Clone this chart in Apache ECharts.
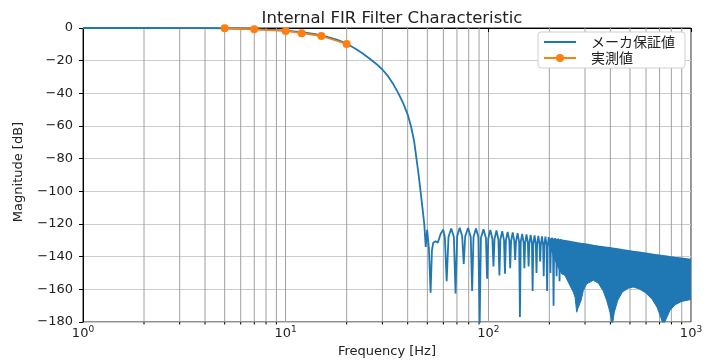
<!DOCTYPE html>
<html>
<head>
<meta charset="utf-8">
<script src="https://cdn.jsdelivr.net/npm/echarts@6/dist/echarts.min.js"></script>
<style>html,body{margin:0;padding:0;background:#fff}#c{width:708px;height:360px}</style>
</head>
<body>
<div id="c"></div>
<script>
// ---- data ----
const minorFreqs = [2,3,4,5,6,7,8,9,20,30,40,50,60,70,80,90,200,300,400,500,600,700,800,900];
const yTicks = [0,-20,-40,-60,-80,-100,-120,-140,-160,-180];

// maker guaranteed curve: pass band + transition
const passFreq = [1, 2, 3, 4, 5, 6, 7, 8, 9, 10, 12, 14, 16, 18, 20, 22, 24, 26, 28, 30, 32, 34, 36, 38, 40, 41.5, 43, 44.2, 45.3, 46.3, 47.3, 48.3];
const passMag  = [0, 0, -0.05, -0.12, -0.28, -0.45, -0.7, -0.95, -1.25, -1.6, -2.6, -3.8, -5.4, -7.3, -9.6, -12.5, -15.6, -18.8, -22, -25.4, -29.5, -34.5, -40, -46, -53, -60, -69, -80, -90, -100, -110, -120];

// stop band ripple: nulls with their shoulders, and lobe peaks
const stopFreq = [49.1, 49.9, 50.9, 51.9, 52.7, 53.5, 54.9, 56.3, 58.2, 59.9,
  61.0, 62.3, 63.6, 65.6,   67.6, 68.9, 70.2, 72.2,   74.3, 75.6, 76.9, 79.4,   81.9, 83.2, 84.5, 86.9,
  89.3, 90.6, 91.9, 94.6,   97.3, 98.6, 99.9, 102.3,  104.7, 106, 107.3, 109.7,  112.1, 113.4, 114.7, 117.1,
  119.5, 120.8, 122.1, 124.5,  126.9, 128.2, 129.5, 131.9,  134.3, 135.6, 136.9, 139.4,  141.9, 143.2, 144.5, 146.9,
  149.3, 150.6, 151.9, 154.3,  156.7, 158, 159.3, 161.7,  164.1, 165.4, 166.7, 169.1,  171.5, 172.8, 174.1, 176.5,
  178.9, 180.2, 181.5, 183.9,  186.3, 187.6, 188.9, 191.3,  193.7, 195, 196.3, 198.7,  201.1, 202.4, 203.7, 206.1,
  208.5, 209.8, 211.1, 213.5,  215.9, 217.2, 218.5, 220.9,  223.3, 224.6, 225.9, 228.3];
const stopMag  = [-134, -123.5, -135, -162, -136, -131.5, -130.5, -131.5, -126, -123.5,
  -128, -155, -128, -122.8,  -128, -162.5, -127.5, -122.3,  -127.5, -144.5, -127.5, -122.4,  -128, -161, -128, -122.8,
  -128, -183, -128.5, -123.2,  -128.5, -153.5, -129, -123.6,  -129, -146, -129, -124,  -129.5, -151.5, -129.5, -124.4,
  -130, -150.5, -130, -124.8,  -130, -147, -130.5, -125.2,  -130.5, -142, -131, -125.6,  -131, -177, -131, -126,
  -131.5, -147, -131.5, -126.3,  -131.5, -146, -132, -126.6,  -132, -161, -132, -126.9,  -132.5, -150, -132.5, -127.2,
  -132.5, -143, -133, -127.5,  -133, -152, -133, -127.8,  -133, -161, -133.5, -128.1,  -133.5, -150, -133.5, -128.4,
  -134, -170, -134, -128.7,  -134, -152, -134.5, -129,  -134.5, -155, -134.5, -129.3];

// dense ripple region (> ~200 Hz) drawn as its upper / lower envelope
const bandFreq  = [200, 210, 220, 230, 239, 248, 262.6, 268, 272.9, 276, 280.2, 286.7, 294.3, 305.6, 329.6, 348.9, 369.3, 383.7, 398.4, 409, 418.4, 434.8, 458.1,
  490.4, 519.1, 553.8, 597.5, 644.2, 681.9, 708.7, 730.1, 758.6, 787.6, 833.7, 899.5, 1000];
const bandUpper = [-129.2, -129.5, -129.8, -130.1, -130.4, -130.7, -131.2, -131.4, -131.6, -131.7, -131.8, -132.0, -132.2, -132.5, -133.2, -133.7, -134.1, -134.4, -134.7, -134.9, -135.1, -135.4, -135.9,
  -136.4, -136.9, -137.4, -138.0, -138.6, -139.0, -139.3, -139.6, -139.9, -140.2, -140.6, -141.1, -141.8];
const bandLower = [-133, -140, -146, -150.5, -151.5, -155.6, -161.7, -165, -174, -172, -173, -166.8, -160.7, -156.6, -154.5, -156.2, -161.1, -166.8, -174, -182, -174, -166.8, -161.7,
  -159.3, -158.6, -159.7, -162.1, -166.2, -171.3, -177, -182, -177.4, -172.9, -169.5, -167.4, -166.2];

// measured values
const measFreq = [5, 7, 10, 12, 15, 20];
const measMag  = [-0.2, -0.8, -1.8, -3.2, -4.9, -9.8];

// ---- build ----
const LATIN = '"DejaVu Sans", "Noto Sans CJK JP", sans-serif';
const CJK = '"Noto Sans CJK JP", "DejaVu Sans", sans-serif';
const BLUE = '#1f77b4', ORANGE = '#ff7f0e';
const makerData = passFreq.map((f, i) => [f, passMag[i]]).concat(stopFreq.map((f, i) => [f, stopMag[i]]));
const measData = measFreq.map((f, i) => [f, measMag[i]]);
// value first so that the stack acts on the magnitude dimension
const bandTop = bandFreq.map((f, i) => [bandUpper[i], f]);
const bandDepth = bandFreq.map((f, i) => [bandLower[i] - bandUpper[i], f]);
const minorData = minorFreqs.map(f => [f, 0]);

const chart = echarts.init(document.getElementById('c'), null, {renderer: 'canvas'});
chart.setOption({
  animation: false,
  backgroundColor: '#fff',
  textStyle: {fontFamily: LATIN},
  title: {
    text: 'Internal FIR Filter Characteristic',
    left: 387, top: 5, textAlign: 'center',
    textStyle: {fontFamily: LATIN, fontSize: 16.5, fontWeight: 'normal', color: '#222'}
  },
  grid: {left: 83, right: 17, top: 28, bottom: 38, containLabel: false, outerBoundsMode: 'none',
    show: true, borderColor: '#222', borderWidth: 1, backgroundColor: 'transparent'},
  legend: {
    data: [{name: 'メーカ保証値', icon: 'path://M0,0H32V2H0Z'}, {name: '実測値'}],
    orient: 'vertical', left: 538, top: 32,
    itemWidth: 32, itemHeight: 10, itemGap: 2,
    backgroundColor: '#fff', borderColor: '#d0d0d0', borderWidth: 1, borderRadius: 3,
    padding: [3, 10, 3, 5],
    textStyle: {fontFamily: CJK, fontSize: 14, color: '#222', padding: [0, 0, 0, 10]}
  },
  xAxis: {
    type: 'log', logBase: 10, min: 1, max: 1000,
    name: 'Frequency [Hz]', nameLocation: 'middle', nameGap: 21,
    nameTextStyle: {fontFamily: LATIN, fontSize: 13, color: '#222'},
    axisLine: {show: true, lineStyle: {color: '#000', width: 1}},
    axisTick: {show: true, length: 4, lineStyle: {color: '#000'}},
    splitLine: {show: true, lineStyle: {color: '#a0a0a0', width: 1}},
    axisLabel: {
      margin: 3, color: '#222',
      formatter: v => '{b|10}{s|' + Math.round(Math.log10(v)) + '}',
      rich: {
        b: {fontFamily: LATIN, fontSize: 13, color: '#222', verticalAlign: 'bottom', lineHeight: 15},
        s: {fontFamily: LATIN, fontSize: 9, color: '#222', verticalAlign: 'top', lineHeight: 15}
      }
    }
  },
  yAxis: {
    type: 'value', min: -180, max: 0, interval: 20,
    name: 'Magnitude [dB]', nameLocation: 'middle', nameGap: 58, nameRotate: 90,
    nameTextStyle: {fontFamily: LATIN, fontSize: 13, color: '#222', padding: [0, 0, 0, 6]},
    axisLine: {show: true, lineStyle: {color: '#000', width: 1}},
    axisTick: {show: true, length: 4, lineStyle: {color: '#000'}},
    splitLine: {show: true, lineStyle: {color: '#cccccc', width: 1}},
    axisLabel: {
      margin: 10, fontFamily: LATIN, fontSize: 13, color: '#222',
      formatter: v => (yTicks.indexOf(v) >= 0 ? String(v).replace('-', '\u2212') : '')
    }
  },
  series: [
    {
      name: 'minor', type: 'custom', silent: true, z: 1, clip: false,
      data: minorData,
      renderItem: (params, api) => {
        const x = api.value(0);
        const top = api.coord([x, 0]);
        const bot = api.coord([x, -180]);
        return {
          type: 'group',
          children: [
            {type: 'line', shape: {x1: top[0], y1: top[1], x2: bot[0], y2: bot[1]}, style: {stroke: '#a0a0a0', lineWidth: 1}},
            {type: 'line', shape: {x1: bot[0], y1: bot[1], x2: bot[0], y2: bot[1] + 2.5}, style: {stroke: '#000', lineWidth: 1}}
          ]
        };
      }
    },
    {
      name: 'band-top', type: 'line', stack: 'band',
      data: bandTop, encode: {x: 1, y: 0}, symbol: 'none', silent: true, z: 3,
      lineStyle: {color: BLUE, width: 1.8}
    },
    {
      name: 'band-fill', type: 'line', stack: 'band',
      data: bandDepth, encode: {x: 1, y: 0}, symbol: 'none', silent: true, z: 3,
      lineStyle: {color: BLUE, width: 1},
      areaStyle: {color: BLUE, opacity: 1}
    },
    {
      name: 'メーカ保証値', type: 'line', data: makerData, symbol: 'none', z: 4,
      lineStyle: {color: BLUE, width: 1.8}, itemStyle: {color: BLUE}
    },
    {
      name: '実測値', type: 'line', data: measData, symbol: 'circle', symbolSize: 8, z: 5,
      lineStyle: {color: ORANGE, width: 1.8}, itemStyle: {color: ORANGE}
    }
  ]
});
</script>
</body>
</html>
